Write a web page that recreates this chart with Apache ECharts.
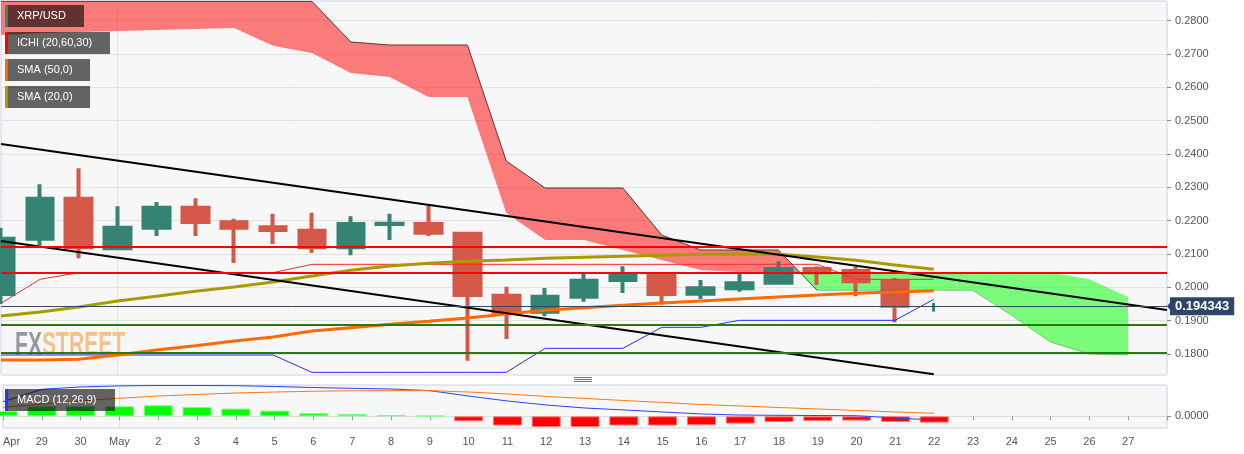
<!DOCTYPE html>
<html><head><meta charset="utf-8">
<script src="https://cdn.jsdelivr.net/npm/echarts@6/dist/echarts.min.js"></script>
<style>html,body{margin:0;padding:0;background:#fff}#c{width:1244px;height:454px}</style>
</head><body><div id="c"></div>
<script>
// ---------- data ----------
const categories = ['2019-04-28','2019-04-29','2019-04-30','2019-05-01','2019-05-02','2019-05-03','2019-05-04','2019-05-05','2019-05-06','2019-05-07','2019-05-08','2019-05-09','2019-05-10','2019-05-11','2019-05-12','2019-05-13','2019-05-14','2019-05-15','2019-05-16','2019-05-17','2019-05-18','2019-05-19','2019-05-20','2019-05-21','2019-05-22','2019-05-23','2019-05-24','2019-05-25','2019-05-26','2019-05-27','2019-05-28'];
const tickLabels = ['Apr','29','30','May','2','3','4','5','6','7','8','9','10','11','12','13','14','15','16','17','18','19','20','21','22','23','24','25','26','27',''];
const yTicks = [0.18,0.19,0.20,0.21,0.22,0.23,0.24,0.25,0.26,0.27,0.28];
const macdTicks = [0];

const open  = [0.1980,0.2146,0.2266,0.2117,0.2179,0.2239,0.2195,0.2180,0.2170,0.2120,0.2190,0.2190,0.2161,0.1975,0.1927,0.1972,0.2022,0.2040,0.1981,0.1997,0.2014,0.2055,0.2049,0.2017,0.1927];
const close = [0.2146,0.2266,0.2120,0.2179,0.2239,0.2196,0.2179,0.2172,0.2120,0.2190,0.2191,0.2164,0.1977,0.1927,0.1972,0.2020,0.2040,0.1980,0.1997,0.2012,0.2055,0.2045,0.2018,0.1945,0.1953];
const low   = [0.1950,0.2126,0.2087,0.2116,0.2154,0.2154,0.2073,0.2130,0.2103,0.2096,0.2142,0.2154,0.1780,0.1845,0.1913,0.1957,0.1983,0.1948,0.1965,0.1987,0.2010,0.2007,0.1973,0.1895,0.1927];
const high  = [0.2179,0.2309,0.2357,0.2243,0.2256,0.2267,0.2206,0.2221,0.2224,0.2213,0.2221,0.2246,0.2162,0.2002,0.1998,0.2043,0.2063,0.2045,0.2022,0.2043,0.2078,0.2063,0.2061,0.2028,0.1953];

const senkouA = [0.2757,0.2762,0.2766,0.2769,0.2772,0.2775,0.2778,0.2725,0.2703,0.2643,0.2631,0.2571,0.2571,0.2223,0.2142,0.2142,0.2112,0.2082,0.2052,0.2046,0.2046,0.20445,0.20445,0.20445,0.20445,0.20445,0.20445,0.20445,0.2024,0.1971];
const senkouB = [0.2858,0.2858,0.2858,0.2858,0.2858,0.2858,0.2858,0.2858,0.2858,0.2736,0.2727,0.2727,0.2727,0.2379,0.2298,0.2298,0.2298,0.2157,0.2112,0.2112,0.2112,0.1991,0.1991,0.1991,0.1991,0.1991,0.1916,0.1836,0.1800,0.1797];
const tenkan  = [0.1952,0.2024,0.2044,0.2044,0.2044,0.2044,0.2044,0.2044,0.2069,0.2069,0.2069,0.2069,0.2069,0.2069,0.2069,0.2069,0.2069,0.2069,0.2069,0.2069,0.2069,0.2069,0.2024,0.2024,0.2024];
const kijun   = [0.1797,0.1797,0.1797,0.1797,0.1797,0.1797,0.1797,0.1797,0.1745,0.1745,0.1745,0.1745,0.1745,0.1745,0.1817,0.1817,0.1817,0.1880,0.1880,0.1901,0.1901,0.1901,0.1901,0.1901,0.1964];
const sma50   = [0.1782,0.1782,0.1784,0.1797,0.1812,0.1825,0.1839,0.1851,0.1869,0.1879,0.1889,0.1898,0.1908,0.1920,0.1931,0.1939,0.1946,0.1953,0.1959,0.1965,0.1971,0.1977,0.1982,0.1986,0.1990];
const sma20   = [0.1914,0.1926,0.1941,0.1959,0.1973,0.1988,0.2001,0.2016,0.2034,0.2051,0.2064,0.2072,0.2078,0.2082,0.2087,0.2090,0.2093,0.2096,0.2099,0.2100,0.2099,0.2091,0.2081,0.2067,0.2054];

const resistanceLevels = [0.2123, 0.2044];
const supportLevels = [0.1889, 0.1804];
const upperTrend = [[0, 0.2430], [30, 0.1932]];
const lowerTrend = [[0, 0.2139], [24, 0.1739]];
const currentPrice = 0.194343;

const macdHist = [0.00054,0.00103,0.00103,0.00103,0.00113,0.00095,0.00079,0.00058,0.00031,0.00024,0.00013,0.00004,-0.00051,-0.00095,-0.0011,-0.0011,-0.00095,-0.00095,-0.00092,-0.00075,-0.00058,-0.00048,-0.00044,-0.00058,-0.00065];
const macdLine = [0.0015,0.00277,0.00301,0.00312,0.00316,0.00316,0.00314,0.00306,0.00295,0.00287,0.0028,0.00263,0.00208,0.00157,0.00116,0.00085,0.00065,0.00044,0.00024,0.00013,0.0001,0.00008,0.00006,-0.00017,-0.00038];
const signalLine = [0.00092,0.00126,0.00157,0.00185,0.00208,0.00224,0.00239,0.00249,0.00257,0.00262,0.00263,0.00263,0.00249,0.00229,0.00203,0.00183,0.00162,0.00142,0.00121,0.00106,0.0009,0.00075,0.0006,0.00044,0.00031];

const legendLabels = ['XRP/USD','ICHI (20,60,30)','SMA (50,0)','SMA (20,0)'];
const macdLabel = 'MACD (12,26,9)';

// ---------- styles ----------
const UP = '#358373', DOWN = '#d45848';
const PRICE_BG = '#2d4567';
const legendColors = ['#2e8a73','#ff0000','#ff6a00','#a99a00'];
const legendWidths = [79,105,85,85];
const FONT = '"Liberation Sans", Arial, sans-serif';

const candleMain = [], candleLast = [];
open.forEach((o,i)=>{ (i < open.length-1 ? candleMain : candleLast).push([i, o, close[i], low[i], high[i]]); });

function cloudRender(params, api) {
  const polys = []; let cur = null;
  for (let i = 0; i < senkouA.length; i++) {
    const pa = api.coord([i, senkouA[i]]), pb = api.coord([i, senkouB[i]]);
    const d = senkouA[i] - senkouB[i];
    const s = d >= 0 ? 1 : -1;
    if (!cur) { cur = {s, a:[pa], b:[pb]}; }
    else if (s !== cur.s) {
      const dp = senkouA[i-1] - senkouB[i-1];
      const t = dp / (dp - d);
      const pap = api.coord([i-1, senkouA[i-1]]);
      const pc = [pap[0] + t*(pa[0]-pap[0]), pap[1] + t*(pa[1]-pap[1])];
      cur.a.push(pc); polys.push(cur);
      cur = {s, a:[pc, pa], b:[pb]};
    } else { cur.a.push(pa); cur.b.push(pb); }
  }
  polys.push(cur);
  return {type:'group', children: polys.map(p => ({
    type:'polygon', shape:{points: p.a.concat(p.b.slice().reverse())},
    style:{fill: p.s > 0 ? 'rgba(0,255,0,0.5)' : 'rgba(255,0,0,0.5)'}
  }))};
}

const bRed = senkouB.map((v,i)=> i <= 21 ? v : null);
const bGreen = senkouB.map((v,i)=> i >= 21 ? v : null);

const splitMay = { show:true, interval:(i)=> i === 3, lineStyle:{color:'#e2e2e2', width:1} };
const thinLine = (name, data, color, width, extra) => Object.assign({
  name, type:'line', xAxisIndex:0, yAxisIndex:0, data, symbol:'none', showSymbol:false,
  lineStyle:{color, width}, silent:true, connectNulls:false
}, extra || {});

const hlines = [];
resistanceLevels.forEach(v => hlines.push({yAxis:v, lineStyle:{color:'#ff0000', width:2, type:'solid'}, label:{show:false}}));
supportLevels.forEach(v => hlines.push({yAxis:v, lineStyle:{color:'#297a0c', width:2, type:'solid'}, label:{show:false}}));
hlines.push({yAxis: currentPrice, lineStyle:{color:'#34495e', width:1, type:'solid'},
  label:{show:true, position:'end', distance:3, formatter: currentPrice.toFixed(6), backgroundColor:PRICE_BG, color:'#fff', fontWeight:'bold', fontSize:13, fontFamily:FONT, padding:[3,5,2,5]}});

const graphics = [];
legendLabels.forEach((t,k) => {
  graphics.push({type:'group', left:5, top:5 + 27*k, z:100, children:[
    {type:'rect', z:100, shape:{x:0,y:0,width:legendWidths[k],height:22}, style:{fill:'rgba(0,0,0,0.6)'}},
    {type:'rect', z:101, shape:{x:0,y:0,width:3,height:22}, style:{fill:legendColors[k]}},
    {type:'text', z:102, x:12, y:11, style:{text:t, fill:'#fff', font:'11px '+FONT, verticalAlign:'middle'}}
  ]});
});
graphics.push({type:'group', left:5, top:389, z:100, children:[
  {type:'rect', z:100, shape:{x:0,y:0,width:110,height:22}, style:{fill:'rgba(0,0,0,0.6)'}},
  {type:'rect', z:101, shape:{x:0,y:0,width:3,height:22}, style:{fill:'#1f3cf0'}},
  {type:'text', z:102, x:12, y:11, style:{text:macdLabel, fill:'#fff', font:'11px '+FONT, verticalAlign:'middle'}}
]});
graphics.push({type:'group', left:15, top:329, z:1, scaleX:0.62, children:[
  {type:'text', z:1, x:0, y:0, style:{text:'FX', fill:'#9698a0', font:'bold 34px '+FONT, verticalAlign:'top'}},
  {type:'text', z:1, x:43.5, y:0, style:{text:'STREET', fill:'#f1c28c', font:'bold 34px '+FONT, verticalAlign:'top'}}
]});
[0,2,4].forEach(dy => graphics.push({type:'line', z:100, shape:{x1:574, y1:377.5+dy, x2:592, y2:377.5+dy}, style:{stroke:'#777', lineWidth:1}}));

const option = {
  animation:false,
  backgroundColor:'#ffffff',
  grid:[
    {left:1, right:77, top:1, height:374, show:true, backgroundColor:'#f7f7f7', borderColor:'#cbd2e4', borderWidth:1},
    {left:1, right:77, top:385, height:43, show:true, backgroundColor:'#f7f7f7', borderColor:'#cbd2e4', borderWidth:1}
  ],
  xAxis:[
    {type:'category', gridIndex:0, data:categories, boundaryGap:false, axisLine:{show:false}, axisTick:{show:false}, axisLabel:{show:false}, splitLine:splitMay},
    {type:'category', gridIndex:1, data:categories, boundaryGap:false, axisLine:{show:false},
      axisTick:{show:true, interval:0, length:4, lineStyle:{color:'#999'}},
      axisLabel:{interval:0, formatter:(v,i)=>tickLabels[i], color:'#555', fontSize:11, fontFamily:FONT, margin:8, alignMinLabel:'left', showMinLabel:true},
      splitLine:splitMay}
  ],
  yAxis:[
    {type:'value', gridIndex:0, position:'right', min:0.1737, max:0.2859,
      axisLine:{show:false},
      axisTick:{show:true, customValues:yTicks, length:4, lineStyle:{color:'#888'}},
      axisLabel:{customValues:yTicks, formatter:v=>v.toFixed(4), color:'#555', fontSize:11, fontFamily:FONT, margin:8},
      splitLine:{show:true, lineStyle:{color:'#e2e2e2'}}},
    {type:'value', gridIndex:1, position:'right', min:-0.0012, max:0.00321,
      axisLine:{show:false},
      axisTick:{show:true, customValues:macdTicks, length:4, lineStyle:{color:'#888'}},
      axisLabel:{customValues:macdTicks, formatter:v=>v.toFixed(4), color:'#555', fontSize:11, fontFamily:FONT, margin:8},
      splitLine:{show:true, lineStyle:{color:'#dcdcdc'}}}
  ],
  graphic: graphics,
  series:[
    {name:'XRP/USD', type:'candlestick', xAxisIndex:0, yAxisIndex:0, data:candleMain, encode:{x:0, y:[1,2,3,4]},
      barWidth:26, silent:true,
      itemStyle:{color:UP, color0:DOWN, borderColor:UP, borderColor0:DOWN, borderWidth:4}},
    {name:'XRP/USD last', type:'candlestick', xAxisIndex:0, yAxisIndex:0, data:candleLast, encode:{x:0, y:[1,2,3,4]},
      barWidth:1, silent:true,
      itemStyle:{color:UP, color0:DOWN, borderColor:UP, borderColor0:DOWN, borderWidth:3}},
    thinLine('Kijun', kijun, '#2b2bff', 1),
    thinLine('Tenkan', tenkan, '#ff2a2a', 1),
    {name:'Cloud', type:'custom', xAxisIndex:0, yAxisIndex:0, data:[[0, senkouA[0]]], encode:{x:0, y:1}, renderItem:cloudRender, clip:true, silent:true},
    thinLine('SenkouB', bRed, 'rgba(70,30,30,0.85)', 1),
    thinLine('SenkouB2', bGreen, 'rgba(0,110,0,0.35)', 1),
    thinLine('SMA 50', sma50, '#ff6a00', 3),
    thinLine('SMA 20', sma20, '#a99a00', 3),
    thinLine('Upper trend', upperTrend, '#000', 2, {markLine:{silent:true, precision:6, symbol:['none','none'], animation:false, data:hlines}}),
    thinLine('Lower trend', lowerTrend, '#000', 2),
    {name:'MACD hist', type:'bar', xAxisIndex:1, yAxisIndex:1, barWidth:29, silent:true,
      data: macdHist.map(v => ({value:v, itemStyle:{color: v >= 0 ? '#00ff00' : '#ff0000', borderColor: v >= 0 ? '#7dff7d' : '#ff7d7d', borderWidth:1}}))},
    {name:'MACD', type:'line', xAxisIndex:1, yAxisIndex:1, data:macdLine, symbol:'none', lineStyle:{color:'#2a40ff', width:1}, silent:true},
    {name:'Signal', type:'line', xAxisIndex:1, yAxisIndex:1, data:signalLine, symbol:'none', lineStyle:{color:'#ff7a1a', width:1}, silent:true}
  ]
};
const chart = echarts.init(document.getElementById('c'));
chart.setOption(option);
// small pointer arrow on the price tag, positioned through the axis scale
const py = chart.convertToPixel({yAxisIndex:0}, currentPrice);
const rx = chart.convertToPixel({xAxisIndex:0}, categories[categories.length-1]);
chart.setOption({graphic: graphics.concat([{type:'polygon', z:100,
  shape:{points:[[rx, py], [rx+4, py-5], [rx+4, py+5]]}, style:{fill:PRICE_BG}}])});
</script></body></html>
